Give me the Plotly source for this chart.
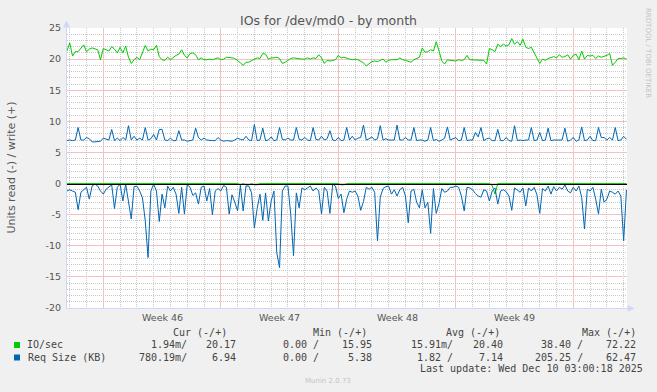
import math
import plotly.graph_objects as go
import pandas as pd

# ---------------- data (4-hour samples) ----------------
title = "IOs for /dev/md0 - by month"
y_label = "Units read (-) / write (+)"
week_labels = ["Week 46", "Week 47", "Week 48", "Week 49"]
week_starts = ["2025-11-10", "2025-11-17", "2025-11-24", "2025-12-01"]
sample_start = "2025-11-07 20:00"
sample_hours = 4

# IO/sec, write (+)
write_ios = [
    21.3, 22.6, 20.5, 21.2, 21.2, 21.8, 22.3, 21.2, 21.6, 21.8,
    21.7, 21.5, 19.9, 21.7, 21.5, 21.3, 22.0, 21.6, 21.0, 21.9,
    21.0, 22.1, 20.3, 19.3, 19.9, 20.3, 19.9, 21.0, 22.2, 21.3,
    21.6, 21.5, 22.2, 20.4, 19.9, 19.8, 20.3, 19.9, 20.3, 20.6,
    20.8, 21.5, 20.6, 20.2, 20.9, 21.0, 20.7, 19.9, 20.2, 19.9,
    19.9,
    20.0, 19.9, 20.0, 20.2, 19.9, 20.0, 20.3, 20.3, 20.2, 20.1,
    19.8, 19.4, 19.0, 19.5, 19.5, 19.8, 20.0, 20.2, 20.1, 20.9,
    20.8, 20.0, 20.2, 20.2, 20.3, 20.1, 19.3, 19.5, 19.8, 20.1,
    20.2, 20.1, 20.0, 20.0, 20.0, 20.2, 20.0, 20.2, 20.1, 20.7,
    20.2, 19.3, 19.8, 19.7, 19.8, 19.9, 20.6, 20.2, 20.3, 20.1,
    20.0, 19.9, 20.0, 19.9, 19.7, 19.4, 18.9, 19.3, 19.6, 19.7,
    19.6, 19.8, 20.0, 19.5, 19.8, 19.9, 19.9, 19.9, 20.2, 19.9,
    19.8, 19.7, 19.5, 19.9, 20.1, 20.3, 21.8, 21.1, 21.2, 21.5,
    21.3, 22.8, 21.3, 19.7, 19.2, 19.9, 19.8, 19.8, 19.7, 19.9,
    19.8, 19.9, 20.6, 19.9, 19.9, 19.9, 19.9, 19.9, 19.8, 19.2,
    21.7, 21.5, 21.2, 22.4, 22.0, 22.4, 22.1, 22.3, 23.3, 22.4,
    22.8, 22.2, 23.2, 21.9, 21.7, 21.9, 21.0, 20.2, 19.3, 20.0,
    19.8, 20.1, 20.2, 20.4, 20.2, 20.7, 20.3, 20.4, 20.7, 20.0,
    20.6, 20.8, 19.9, 21.3, 20.0, 20.6, 20.5, 20.6, 20.1, 20.5,
    20.3, 20.4, 20.6, 20.9, 19.0, 19.5, 20.1, 20.1, 20.2, 20.0,
]

# IO/sec, read (-)  (magnitudes, drawn below zero)
read_ios = [0.0] * 201
for _i, _v in [(62, 0.2), (64, 0.2), (65, 0.2), (67, 0.2), (68, 0.2),
               (98, 0.2), (99, 0.2), (152, 0.3), (153, 1.7)]:
    read_ios[_i] = _v

# Req Size (KB), write (+)
write_size = [
    6.9, 7.0, 6.9, 7.0, 9.0, 7.0, 7.0, 7.4, 7.2, 6.7,
    6.7, 6.7, 6.8, 7.3, 7.1, 7.0, 8.7, 6.9, 7.3, 6.9,
    7.4, 7.0, 9.3, 7.0, 7.6, 7.0, 7.3, 7.0, 9.0, 7.0,
    7.2, 7.9, 7.0, 8.7, 8.7, 7.0, 6.9, 7.3, 6.9, 6.9,
    8.5, 7.0, 7.0, 6.8, 6.9, 7.0, 8.9, 7.4, 7.0, 7.3,
    7.0,
    6.9, 6.9, 6.9, 7.4, 7.0, 6.8, 6.9, 6.9, 6.8, 7.0,
    7.3, 7.1, 7.0, 7.6, 7.0, 6.9, 9.5, 6.9, 7.0, 8.9,
    6.9, 7.0, 7.5, 6.9, 7.0, 9.0, 7.1, 7.0, 7.3, 7.0,
    7.0, 9.0, 7.1, 7.0, 7.4, 7.0, 6.9, 9.0, 7.1, 7.0,
    7.6, 7.0, 7.2, 8.5, 7.0, 6.9, 7.4, 6.9, 7.0, 9.0,
    7.0, 7.6, 7.0, 7.3, 7.4, 9.4, 7.0, 7.2, 7.5, 7.0,
    7.2, 9.3, 7.0, 7.2, 7.0, 7.0, 7.0, 9.4, 7.0, 7.0,
    7.4, 7.0, 7.0, 9.0, 6.9, 7.0, 7.0, 6.8, 7.0, 9.0,
    6.9, 7.1, 6.8, 7.0, 7.3, 9.1, 7.0, 7.2, 7.4, 6.9,
    7.0, 9.0, 6.9, 7.0, 7.0, 8.2, 7.5, 9.0, 6.9, 7.2,
    7.3, 6.9, 6.9, 8.7, 6.9, 6.9, 7.4, 6.9, 6.8, 9.3,
    6.9, 7.0, 6.9, 7.0, 7.0, 9.0, 6.9, 7.0, 8.2, 6.9,
    7.0, 8.9, 6.9, 7.0, 7.0, 6.9, 7.0, 8.9, 6.8, 7.0,
    7.4, 6.8, 7.0, 9.1, 6.9, 7.0, 7.6, 6.9, 6.9, 9.0,
    7.4, 7.4, 7.0, 7.4, 7.0, 9.0, 6.9, 7.0, 7.6, 7.1,
]

# Req Size (KB), read (-)  (magnitudes, drawn below zero)
read_size = [
    1.2, 1.0, 1.2, 1.4, 4.2, 1.4, 1.0, 0.6, 2.5, 0.4,
    0.1, 0.4, 1.2, 1.7, 0.9, 0.6, 0.2, 4.0, 0.6, 0.1,
    2.8, 0.1, 2.6, 5.7, 0.5, 0.4, 1.2, 2.3, 6.0, 11.9,
    1.2, 0.1, 1.2, 6.1, 1.7, 3.9, 0.4, 1.2, 0.6, 1.7,
    4.8, 0.6, 4.9, 0.2, 0.6, 1.9, 1.5, 3.3, 0.6, 0.4,
    2.8,
    0.8, 5.0, 1.2, 0.8, 1.2, 0.3, 0.6, 4.9, 1.8, 3.0,
    4.4, 0.3, 4.4, 0.4, 0.4, 1.5, 7.1, 4.0, 1.7, 5.9,
    1.5, 6.0, 2.8, 1.2, 11.1, 13.5, 1.2, 0.4, 0.4, 5.0,
    11.6, 1.5, 3.9, 0.7, 1.0, 0.7, 0.4, 1.2, 0.7, 1.2,
    4.9, 0.6, 1.2, 4.8, 0.1, 0.4, 2.4, 1.7, 4.7, 2.5,
    1.2, 1.4, 1.2, 2.0, 4.3, 2.9, 0.6, 0.9, 0.6, 1.4,
    9.2, 2.2, 0.8, 0.5, 0.4, 1.7, 1.0, 2.0, 1.0, 0.6,
    2.0, 6.3, 1.2, 0.9, 3.0, 3.9, 1.0, 3.9, 3.0, 8.0,
    0.8, 4.8, 3.2, 0.8, 1.4, 1.2, 0.6, 0.6, 0.4, 0.6,
    2.0, 4.4, 0.6, 0.7, 1.0, 1.6, 2.0, 2.2, 1.0, 1.2,
    2.8, 1.2, 0.7, 3.3, 1.2, 1.0, 1.3, 2.0, 4.3, 0.7,
    1.0, 1.4, 0.7, 3.6, 0.7, 1.2, 0.6, 1.8, 4.8, 0.8,
    1.2, 0.4, 1.7, 0.5, 1.2, 0.6, 0.9, 0.2, 1.2, 1.5,
    0.6, 1.2, 0.4, 2.2, 7.3, 0.9, 1.2, 0.6, 2.5, 4.9,
    0.9, 3.0, 2.5, 1.2, 1.4, 1.7, 1.2, 2.0, 9.2, 1.0,
]

y_range = [-20, 25]
y_tick_vals = [-20, -15, -10, -5, 0, 5, 10, 15, 20, 25]
y_tick_text = ["-20", "-15", "-10", "-5", "0", "5", "10", "15", "20", "25"]

legend_header = ["Cur (-/+)", "Min (-/+)", "Avg (-/+)", "Max (-/+)"]
legend_names = ["IO/sec", "Req Size (KB)"]
legend_colors = ["#00cc00", "#0066b3"]
legend_rows = [
    ["1.94m/", "20.17", "0.00 /", "15.95", "15.91m/", "20.40", "38.40 /", "72.22"],
    ["780.19m/", "6.94", "0.00 /", "5.38", "1.82 /", "7.14", "205.25 /", "62.47"],
]
last_update = "Last update: Wed Dec 10 03:00:18 2025"
footer = "Munin 2.0.73"
watermark = "RRDTOOL / TOBI OETIKER"

# ---------------- geometry helpers ----------------
W, H = 657, 392
L, R, T, B = 67, 30, 28, 84
PW, PH = W - L - R, H - T - B
PX_PER_DAY = 16.786


def px(x):
    return (x - L) / PW


def py(y):
    return (H - B - y) / PH


def snap(p):
    return math.floor(p + 0.5) + 0.5


x_start = pd.Timestamp(week_starts[0]) - pd.Timedelta(hours=51.9)
x_end = x_start + pd.Timedelta(hours=PW / PX_PER_DAY * 24)
t0 = pd.Timestamp(sample_start)
times = [t0 + pd.Timedelta(hours=sample_hours * i) for i in range(len(write_ios))]


def y_pix(v):
    return T + (y_range[1] - v) / (y_range[1] - y_range[0]) * PH


GREEN, BLUE = legend_colors
TXT = "#555555"
AXIS = "#cfd6f8"
MGRID = "#f4c0c0"
GRID = "#c8c8c8"
DOT = "1px,1px"

# grid positions: days (minor) / weeks (major); units (minor) / fives (major)
all_days = pd.date_range(x_start.ceil("D"), x_end, freq="D")
week_lines = [d for d in all_days if d.dayofweek == 0]
day_lines = [d for d in all_days if d.dayofweek != 0]
y_minor = [v for v in range(y_range[0], y_range[1] + 1) if v % 5 != 0]

zero_y = py(snap(y_pix(0)))
shapes = [
    dict(type="line", xref="paper", yref="paper", x0=0, x1=1, y0=zero_y, y1=zero_y,
         line=dict(color="#000000", width=1), layer="above"),
    # axes with arrows
    dict(type="line", xref="paper", yref="paper", x0=px(66.5), x1=px(66.5),
         y0=py(308.5), y1=py(23), line=dict(color=AXIS, width=1)),
    dict(type="path", xref="paper", yref="paper",
         path=f"M {px(63.5)},{py(27)} L {px(66.5)},{py(21)} L {px(69.5)},{py(27)} Z",
         fillcolor=AXIS, line=dict(color=AXIS, width=0.5)),
    dict(type="line", xref="paper", yref="paper", x0=px(66.5), x1=px(630),
         y0=py(308.5), y1=py(308.5), line=dict(color=AXIS, width=1)),
    dict(type="path", xref="paper", yref="paper",
         path=f"M {px(628)},{py(305.5)} L {px(634)},{py(308.5)} L {px(628)},{py(311.5)} Z",
         fillcolor=AXIS, line=dict(color=AXIS, width=0.5)),
]
for k, c in enumerate(legend_colors):
    yc = 345 + 12.5 * k
    shapes.append(dict(type="rect", xref="paper", yref="paper",
                       x0=px(14), x1=px(20), y0=py(yc - 3), y1=py(yc + 3),
                       fillcolor=c, line=dict(width=0)))

fig = go.Figure()
fig.add_trace(go.Scatter(x=times, y=write_ios, mode="lines",
                         line=dict(color=GREEN, width=1), hoverinfo="skip"))
fig.add_trace(go.Scatter(x=times, y=[-v for v in read_ios], mode="lines",
                         line=dict(color=GREEN, width=1), hoverinfo="skip"))
fig.add_trace(go.Scatter(x=times, y=write_size, mode="lines",
                         line=dict(color=BLUE, width=1), hoverinfo="skip"))
fig.add_trace(go.Scatter(x=times, y=[-v for v in read_size], mode="lines",
                         line=dict(color=BLUE, width=1), hoverinfo="skip"))

ann = []


def text(s, x, y, size=10, color=TXT, family="DejaVu Sans", xanchor="center",
         angle=0):
    ann.append(dict(text=s, x=px(x), y=py(y), xref="paper", yref="paper",
                    showarrow=False, xanchor=xanchor, yanchor="middle",
                    textangle=angle, borderpad=0,
                    font=dict(size=size, color=color, family=family)))


text(title, 328, 20, size=12.5, color=TXT)
text(y_label, 11, 167.5, size=11, color=TXT, angle=-90)
text(watermark, 648, 53, size=7, color="#c4c4c4", angle=90)
text(footer, 328, 381, size=7, color="#c4c4c4")

for lab, ws in zip(week_labels, week_starts):
    mid = pd.Timestamp(ws) + pd.Timedelta(hours=84)
    ann.append(dict(text=lab, x=mid, y=py(317.3), xref="x", yref="paper",
                    showarrow=False, xanchor="center", yanchor="middle",
                    font=dict(size=9.5, color=TXT, family="DejaVu Sans")))

MONO = "DejaVu Sans Mono"
LTXT = "#444444"
for s, xr in zip(legend_header, [227.5, 367.5, 501, 637]):
    text(s, xr, 332.3, size=10, color=LTXT, family=MONO, xanchor="right")
right_edges = [187.5, 237.5, 320, 372.5, 454, 504, 584, 637]
for k, (name, row) in enumerate(zip(legend_names, legend_rows)):
    yc = 344.5 + 12.5 * k
    text(name, 26.5, yc, size=10, color=LTXT, family=MONO, xanchor="left")
    for s, xr in zip(row, right_edges):
        text(s, xr, yc, size=10, color=LTXT, family=MONO, xanchor="right")
text(last_update, 643.5, 368.5, size=10, color=LTXT, family=MONO, xanchor="right")

fig.update_layout(
    width=W, height=H,
    margin=dict(l=L, r=R, t=T, b=B, pad=0),
    paper_bgcolor="#f0f0f0", plot_bgcolor="#ffffff",
    showlegend=False, hovermode=False,
    shapes=shapes, annotations=ann,
    xaxis=dict(type="date", range=[x_start, x_end],
               tickmode="array", tickvals=week_lines,
               showgrid=True, gridcolor=MGRID, gridwidth=1,
               showticklabels=False, ticks="", zeroline=False, showline=False,
               minor=dict(tickmode="array", tickvals=day_lines, showgrid=True,
                          gridcolor=GRID, gridwidth=1, griddash=DOT, ticks="")),
    yaxis=dict(range=y_range, tickmode="array", tickvals=y_tick_vals,
               ticktext=y_tick_text, showgrid=True, gridcolor=MGRID,
               gridwidth=1, zeroline=False,
               showline=False, ticks="", ticklabelstandoff=5,
               tickfont=dict(family="DejaVu Sans", size=9.5, color=TXT),
               minor=dict(tickmode="array", tickvals=y_minor, showgrid=True,
                          gridcolor=GRID, gridwidth=1, griddash=DOT, ticks="")),
)

fig.write_html("out.html", config={"displayModeBar": False},
               post_script="document.body.style.margin='0';")
